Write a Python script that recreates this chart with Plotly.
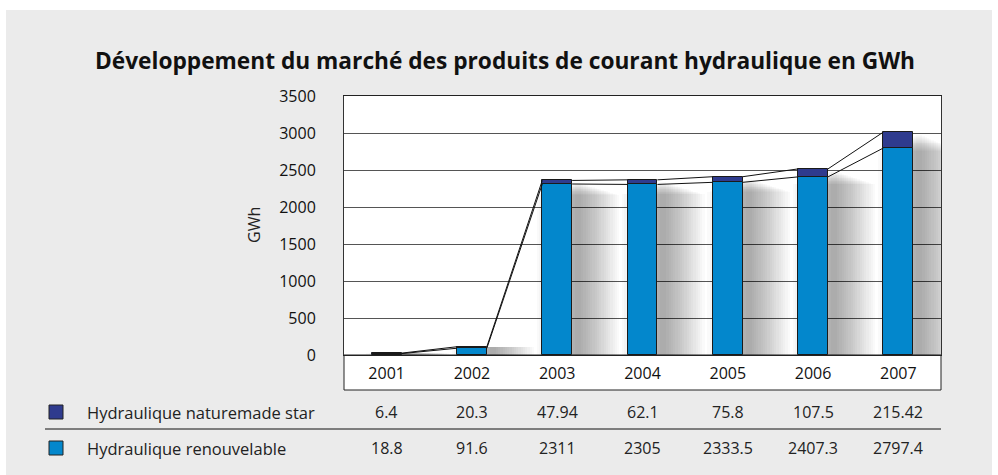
import plotly.graph_objects as go

years = ["2001", "2002", "2003", "2004", "2005", "2006", "2007"]
naturemade = [6.4, 20.3, 47.94, 62.1, 75.8, 107.5, 215.42]
renouvelable = [18.8, 91.6, 2311, 2305, 2333.5, 2407.3, 2797.4]
naturemade_txt = ["6.4", "20.3", "47.94", "62.1", "75.8", "107.5", "215.42"]
renouvelable_txt = ["18.8", "91.6", "2311", "2305", "2333.5", "2407.3", "2797.4"]
series_names = ["Hydraulique naturemade star", "Hydraulique renouvelable"]
title = "Développement du marché des produits de courant hydraulique en GWh"
y_ticks = [0, 500, 1000, 1500, 2000, 2500, 3000, 3500]

C_NAT = "#2f3b8e"
C_REN = "#0387cc"
BG = "#ebebeb"
FONT = "Open Sans"

W, H = 998, 475
L, R, T, B = 344, 57, 96, 120
PW, PH = W - L - R, H - T - B

def px_x(px):
    return (px - L) / PW

def px_y(py):
    return (H - B - py) / PH

xs = list(range(len(years)))
totals = [a + b for a, b in zip(renouvelable, naturemade)]
BW = 0.35

fig = go.Figure()

# soft shadows to the right of each bar (stacked translucent layers -> gradient)
unit_px = PW / len(years)
center = BW / 2 + 6 / unit_px
for k in range(18):
    wpx = 6 + k * 4.5
    w = wpx / unit_px
    frac = 0.985 - k * 0.004
    fig.add_trace(go.Bar(x=xs, y=[t * frac for t in totals], width=w, offset=center - w / 2,
                         marker=dict(color="rgba(0,0,0,0.02)", line=dict(width=0)),
                         hoverinfo="skip", showlegend=False))

fig.add_trace(go.Bar(x=xs, y=renouvelable, width=BW, name=series_names[1],
                     marker=dict(color=C_REN, line=dict(color="#1a1a1a", width=1)),
                     showlegend=False))
fig.add_trace(go.Bar(x=xs, y=naturemade, base=renouvelable, width=BW, name=series_names[0],
                     marker=dict(color=C_NAT, line=dict(color="#1a1a1a", width=1)),
                     showlegend=False))

# series lines connecting bar tops
for vals in (renouvelable, totals):
    lx, ly = [], []
    for i in range(len(xs) - 1):
        lx += [xs[i] + BW / 2, xs[i + 1] - BW / 2, None]
        ly += [vals[i], vals[i + 1], None]
    fig.add_trace(go.Scatter(x=lx, y=ly, mode="lines", line=dict(color="#111", width=1),
                             hoverinfo="skip", showlegend=False))

shapes = []
# white page edges
shapes.append(dict(type="rect", xref="paper", yref="paper", x0=px_x(-5), x1=px_x(W + 5),
                   y0=px_y(10), y1=px_y(-5), fillcolor="white", line=dict(width=0), layer="above"))
shapes.append(dict(type="rect", xref="paper", yref="paper", x0=px_x(-5), x1=px_x(6),
                   y0=px_y(H + 5), y1=px_y(-5), fillcolor="white", line=dict(width=0), layer="above"))
shapes.append(dict(type="rect", xref="paper", yref="paper", x0=px_x(992), x1=px_x(W + 5),
                   y0=px_y(H + 5), y1=px_y(-5), fillcolor="white", line=dict(width=0), layer="above"))
# category strip
shapes.append(dict(type="rect", xref="paper", yref="paper", x0=0, x1=1,
                   y0=px_y(390), y1=0, fillcolor="white", line=dict(color="#222", width=1),
                   layer="below"))
# table separator
shapes.append(dict(type="line", xref="paper", yref="paper", x0=px_x(45), x1=1,
                   y0=px_y(429), y1=px_y(429), line=dict(color="#111", width=1)))

annotations = []
annotations.append(dict(text=f"<b>{title}</b>", xref="paper", yref="paper", x=px_x(505), y=px_y(60),
                        showarrow=False, font=dict(family=FONT, size=22.7, color="#111"),
                        xanchor="center", yanchor="middle"))
annotations.append(dict(text="GWh", xref="paper", yref="paper", x=px_x(254), y=px_y(225),
                        textangle=-90, showarrow=False, font=dict(family=FONT, size=16, color="#222"),
                        xanchor="center", yanchor="middle"))

rows = [(series_names[0], naturemade_txt, C_NAT, 412), (series_names[1], renouvelable_txt, C_REN, 448)]
for name, txts, col, ypx in rows:
    shapes.append(dict(type="rect", xref="paper", yref="paper", x0=px_x(49), x1=px_x(63),
                       y0=px_y(ypx + 7), y1=px_y(ypx - 7), fillcolor=col,
                       line=dict(color="#222", width=1)))
    annotations.append(dict(text=name, xref="paper", yref="paper", x=px_x(85), y=px_y(ypx),
                            showarrow=False, xanchor="left", yanchor="middle",
                            font=dict(family=FONT, size=16.5, color="#222")))
    for xi, t in zip(xs, txts):
        annotations.append(dict(text=t, xref="x", yref="paper", x=xi, y=px_y(ypx),
                                showarrow=False, xanchor="center", yanchor="middle",
                                font=dict(family=FONT, size=16, color="#222")))

fig.update_layout(
    width=W, height=H,
    margin=dict(l=L, r=R, t=T, b=B, pad=0),
    paper_bgcolor=BG, plot_bgcolor="white",
    barmode="overlay", bargap=0,
    font=dict(family=FONT, size=16, color="#222"),
    shapes=shapes, annotations=annotations,
    xaxis=dict(range=[-0.5, len(years) - 0.5], tickmode="array", tickvals=xs, ticktext=years,
               showgrid=False, zeroline=False, showline=True, linecolor="#222", mirror=True,
               ticks="", ticklabelstandoff=4, tickfont=dict(family=FONT, size=16, color="#111"),
               fixedrange=True),
    yaxis=dict(range=[0, 3500], tickmode="array", tickvals=y_ticks,
               showgrid=True, gridcolor="#555", gridwidth=1, zeroline=False,
               showline=True, linecolor="#333", mirror=True, ticks="",
               ticklabelstandoff=24, tickfont=dict(family=FONT, size=16, color="#111"),
               fixedrange=True),
)

fig.write_html("out.html", config={"displayModeBar": False},
               post_script="document.body.style.margin='0';document.body.style.overflow='hidden';")
